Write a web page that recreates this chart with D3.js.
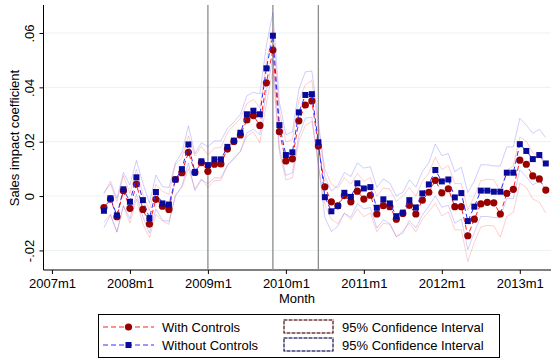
<!DOCTYPE html>
<html>
<head>
<meta charset="utf-8">
<script src="https://cdn.jsdelivr.net/npm/d3@7"></script>
<style>
  body { margin: 0; background: #fff; }
  text { font-family: "Liberation Sans", Arial, sans-serif; fill: #000; }
</style>
</head>
<body>
<div id="container"></div>
<script>
// first month of the series, then one value per month
var startMonth = "2007m9";

var withControls = [
    -0.0042, -0.0011, -0.0076, 0.0020, -0.0045, 0.0044, -0.0049, -0.0103, -0.0012, -0.0037,
    -0.0049, 0.0061, 0.0086, 0.0161, 0.0087, 0.0123, 0.0091, 0.0117, 0.0118, 0.0173,
    0.0201, 0.0225, 0.0280, 0.0296, 0.0260, 0.0417, 0.0537, 0.0237, 0.0129, 0.0137,
    0.0277, 0.0335, 0.0350, 0.0184, 0.0034, -0.0021, -0.0036, 0.0002, -0.0021, 0.0018,
    -0.0011, 0.0003, -0.0066, -0.0035, -0.0039, -0.0085, -0.0064, -0.0034, -0.0066, -0.0015,
    0.0014, 0.0058, 0.0012, 0.0027, -0.0039, -0.0039, -0.0146, -0.0085, -0.0029, -0.0023,
    -0.0025, -0.0066, 0.0010, 0.0025, 0.0132, 0.0117, 0.0074, 0.0063, 0.0022
];

var withoutControls = [
    -0.0054, -0.0008, -0.0071, 0.0025, -0.0021, 0.0069, -0.0015, -0.0081, 0.0015, -0.0027,
    -0.0031, 0.0061, 0.0099, 0.0190, 0.0088, 0.0128, 0.0114, 0.0135, 0.0135, 0.0181,
    0.0204, 0.0233, 0.0301, 0.0314, 0.0301, 0.0470, 0.0590, 0.0261, 0.0151, 0.0161,
    0.0308, 0.0372, 0.0375, 0.0198, -0.0004, -0.0056, -0.0036, 0.0012, -0.0003, 0.0047,
    0.0028, 0.0033, -0.0043, -0.0012, -0.0027, -0.0074, -0.0061, -0.0015, -0.0042, 0.0010,
    0.0043, 0.0096, 0.0054, 0.0061, -0.0005, 0.0011, -0.0092, -0.0039, 0.0020, 0.0020,
    0.0016, 0.0016, 0.0086, 0.0086, 0.0191, 0.0166, 0.0136, 0.0151, 0.0120
];

// half width of the 95% interval
var ciWith = [
    0.0055, 0.0055, 0.0055, 0.0055, 0.0055, 0.0055, 0.0055, 0.0050, 0.0055, 0.0055,
    0.0055, 0.0055, 0.0055, 0.0060, 0.0060, 0.0060, 0.0060, 0.0060, 0.0060, 0.0060,
    0.0060, 0.0060, 0.0060, 0.0060, 0.0065, 0.0075, 0.0075, 0.0075, 0.0070, 0.0070,
    0.0075, 0.0075, 0.0075, 0.0070, 0.0065, 0.0065, 0.0065, 0.0065, 0.0065, 0.0065,
    0.0065, 0.0065, 0.0065, 0.0065, 0.0065, 0.0065, 0.0065, 0.0065, 0.0065, 0.0070,
    0.0070, 0.0085, 0.0085, 0.0085, 0.0085, 0.0085, 0.0095, 0.0085, 0.0085, 0.0085,
    0.0085, 0.0085, 0.0085, 0.0085, 0.0085, 0.0085, 0.0085, 0.0085, 0.0085
];

var ciWithout = [
    0.0062, 0.0062, 0.0062, 0.0062, 0.0062, 0.0062, 0.0062, 0.0055, 0.0062, 0.0062,
    0.0062, 0.0062, 0.0062, 0.0068, 0.0068, 0.0068, 0.0068, 0.0068, 0.0068, 0.0068,
    0.0068, 0.0068, 0.0068, 0.0068, 0.0075, 0.0085, 0.0085, 0.0085, 0.0075, 0.0075,
    0.0085, 0.0085, 0.0085, 0.0080, 0.0075, 0.0075, 0.0075, 0.0075, 0.0075, 0.0075,
    0.0075, 0.0075, 0.0075, 0.0075, 0.0075, 0.0075, 0.0075, 0.0075, 0.0075, 0.0080,
    0.0080, 0.0095, 0.0095, 0.0095, 0.0095, 0.0095, 0.0105, 0.0095, 0.0095, 0.0095,
    0.0095, 0.0095, 0.0095, 0.0095, 0.0095, 0.0095, 0.0095, 0.0095, 0.0095
];

var xTickLabels = ["2007m1", "2008m1", "2009m1", "2010m1", "2011m1", "2012m1", "2013m1"];
var yTicks = [-0.02, 0, 0.02, 0.04, 0.06];
var yTickLabels = ["-.02", "0", ".02", ".04", ".06"];
var eventMonths = ["2009m1", "2009m11", "2010m6"];
var legendLabels = ["With Controls", "Without Controls"];
var ciLabel = "95% Confidence Interval";

var width = 552,
    height = 360;

function monthIndex(s) {
    var p = s.split("m");
    return (+p[0] - 2007) * 12 + (+p[1] - 1);
}

var start = monthIndex(startMonth);
var months = withControls.map(function (d, i) { return start + i; });

var x = d3.scaleLinear().domain([-1.3, 76.8]).range([43.5, 551]);
var y = d3.scaleLinear().domain([-0.0272, 0.0703]).range([270, 5]);

var svg = d3.select("#container").append("svg")
    .attr("width", width)
    .attr("height", height);

// grid lines
svg.append("g").selectAll("line").data(yTicks).enter().append("line")
    .attr("x1", 44).attr("x2", 551)
    .attr("y1", function (d) { return y(d); })
    .attr("y2", function (d) { return y(d); })
    .attr("stroke", "#eaf2f3")
    .attr("stroke-width", 1);

// axes
var yAxis = d3.axisLeft(y).tickValues(yTicks).tickSize(4)
    .tickFormat(function (d, i) { return yTickLabels[i]; });
var gy = svg.append("g").attr("transform", "translate(43.5,0)").call(yAxis);
gy.select(".domain").attr("d", "M0,5V270");
gy.selectAll("text")
    .attr("font-size", "13px")
    .attr("x", null).attr("dy", null)
    .attr("text-anchor", "middle")
    .attr("transform", "translate(-10,0) rotate(-90)");

var xAxis = d3.axisBottom(x).tickValues(xTickLabels.map(monthIndex)).tickSize(4)
    .tickFormat(function (d, i) { return xTickLabels[i]; });
var gx = svg.append("g").attr("transform", "translate(0,270)").call(xAxis);
gx.select(".domain").attr("d", "M43.5,0H551");
gx.selectAll("text").attr("font-size", "13px").attr("y", 7).attr("dy", "0.85em");
svg.selectAll(".domain, .tick line").attr("stroke", "#000");

svg.append("text")
    .attr("transform", "translate(19,138) rotate(-90)")
    .attr("text-anchor", "middle")
    .attr("font-size", "13px")
    .text("Sales impact coefficient");

svg.append("text")
    .attr("x", 297).attr("y", 303)
    .attr("text-anchor", "middle")
    .attr("font-size", "13px")
    .text("Month");

// event lines
svg.append("g").selectAll("line").data(eventMonths).enter().append("line")
    .attr("x1", function (d) { return x(monthIndex(d)); })
    .attr("x2", function (d) { return x(monthIndex(d)); })
    .attr("y1", 5).attr("y2", 270)
    .attr("stroke", "#8c8c8c")
    .attr("stroke-width", 1.3);

// confidence bands as faint lines
var line = d3.line()
    .x(function (d) { return x(d[0]); })
    .y(function (d) { return y(d[1]); });

function bandLines(vals, ci, color) {
    var lo = vals.map(function (v, i) { return [months[i], v - ci[i]]; });
    var hi = vals.map(function (v, i) { return [months[i], v + ci[i]]; });
    [lo, hi].forEach(function (pts) {
        svg.append("path").attr("d", line(pts))
            .attr("fill", "none")
            .attr("stroke", color)
            .attr("stroke-width", 1);
    });
}
bandLines(withControls, ciWith, "rgba(255,80,80,0.28)");
bandLines(withoutControls, ciWithout, "rgba(80,80,255,0.28)");

// series
function series(vals, lineColor, markColor, shape) {
    var pts = vals.map(function (v, i) { return [months[i], v]; });
    svg.append("path").attr("d", line(pts))
        .attr("fill", "none")
        .attr("stroke", lineColor)
        .attr("stroke-width", 1)
        .attr("stroke-dasharray", "5,3");
    var g = svg.append("g");
    if (shape === "circle") {
        g.selectAll("circle").data(pts).enter().append("circle")
            .attr("cx", function (d) { return x(d[0]); })
            .attr("cy", function (d) { return y(d[1]); })
            .attr("r", 3.6)
            .attr("fill", markColor);
    } else {
        g.selectAll("rect").data(pts).enter().append("rect")
            .attr("x", function (d) { return x(d[0]) - 3; })
            .attr("y", function (d) { return y(d[1]) - 3; })
            .attr("width", 6).attr("height", 6)
            .attr("fill", markColor);
    }
}
series(withControls, "#ff2020", "#990000", "circle");
series(withoutControls, "#3030ff", "#0a0a9a", "square");

// legend
var lg = svg.append("g");
lg.append("rect")
    .attr("x", 98.5).attr("y", 314.5)
    .attr("width", 401).attr("height", 43)
    .attr("fill", "#fff").attr("stroke", "#000").attr("stroke-width", 1);

var rowsY = [327, 345];
var legColors = [["#ff2020", "#990000", "#e6b8b8"], ["#3030ff", "#0a0a9a", "#b8b8ea"]];
legendLabels.forEach(function (lab, i) {
    var cy = rowsY[i];
    lg.append("line")
        .attr("x1", 103).attr("x2", 154).attr("y1", cy).attr("y2", cy)
        .attr("stroke", legColors[i][0]).attr("stroke-width", 1)
        .attr("stroke-dasharray", "5,3");
    if (i === 0) {
        lg.append("circle").attr("cx", 128.5).attr("cy", cy).attr("r", 3.6)
            .attr("fill", legColors[i][1]);
    } else {
        lg.append("rect").attr("x", 125.5).attr("y", cy - 3).attr("width", 6).attr("height", 6)
            .attr("fill", legColors[i][1]);
    }
    lg.append("text").attr("x", 162).attr("y", cy + 4.5)
        .attr("font-size", "13px").text(lab);

    lg.append("rect")
        .attr("x", 284).attr("y", cy - 7).attr("width", 49).attr("height", 13)
        .attr("fill", "#fff").attr("stroke", legColors[i][2]).attr("stroke-width", 2);
    lg.append("rect")
        .attr("x", 284).attr("y", cy - 7).attr("width", 49).attr("height", 13)
        .attr("fill", "none").attr("stroke", "#000").attr("stroke-width", 0.8)
        .attr("stroke-dasharray", "3,2");
    lg.append("text").attr("x", 342).attr("y", cy + 4.5)
        .attr("font-size", "13px").text(ciLabel);
});
</script>
</body>
</html>
